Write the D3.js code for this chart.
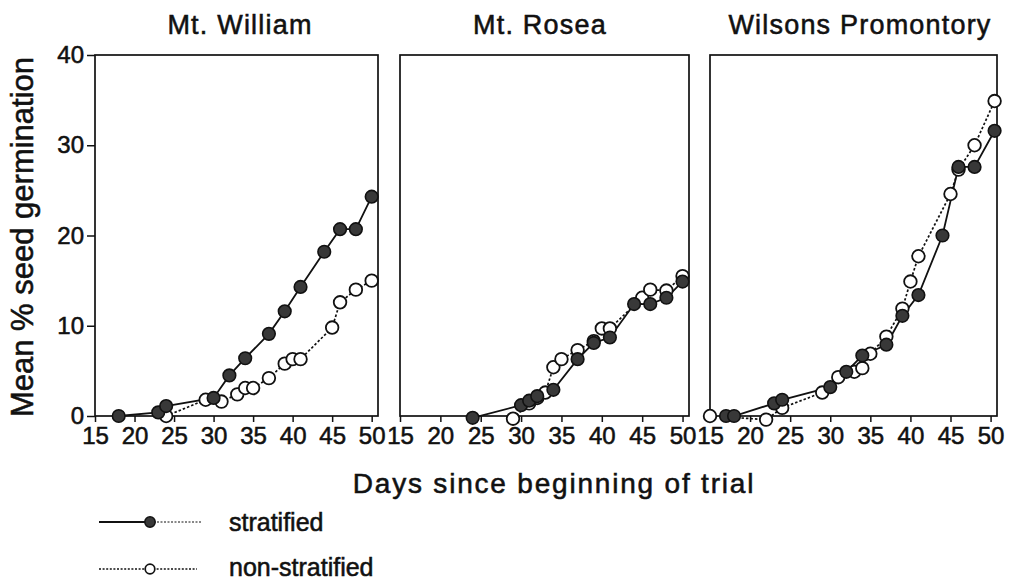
<!DOCTYPE html>
<html>
<head>
<meta charset="utf-8">
<script src="https://cdn.jsdelivr.net/npm/d3@7"></script>
<style>
  html, body { margin: 0; padding: 0; background: #fff; }
  svg { display: block; }
  text { font-family: 'Liberation Sans', Arial, Helvetica, sans-serif; fill: #111; stroke: #111; stroke-width: 0.55px; }
</style>
</head>
<body>
<svg id="chart" width="1010" height="585"></svg>
<script>
// ---- data ----
const panelTitles = ["Mt. William", "Mt. Rosea", "Wilsons Promontory"];
const xTicks = [15, 20, 25, 30, 35, 40, 45, 50];
const yTicks = [0, 10, 20, 30, 40];
const seriesNames = ["stratified", "non-stratified"];

const williamStratDays = [18, 23, 24, 30, 32, 34, 37, 39, 41, 44, 46, 48, 50];
const williamStratVals = [0, 0.4, 1.1, 2.0, 4.5, 6.4, 9.1, 11.6, 14.3, 18.2, 20.7, 20.7, 24.3];
const williamNonDays = [24, 29, 31, 33, 34, 35, 37, 39, 40, 41, 45, 46, 48, 50];
const williamNonVals = [0, 1.8, 1.6, 2.4, 3.1, 3.1, 4.2, 5.8, 6.3, 6.3, 9.8, 12.6, 14.0, 15.0];

const roseaStratDays = [24, 30, 31, 32, 34, 37, 39, 41, 44, 46, 48, 50];
const roseaStratVals = [-0.2, 1.2, 1.7, 2.2, 2.9, 6.3, 8.1, 8.7, 12.4, 12.4, 13.1, 14.9];
const roseaNonDays = [29, 31, 32, 33, 34, 35, 37, 39, 40, 41, 45, 46, 48, 50];
const roseaNonVals = [-0.3, 1.4, 2.0, 2.6, 5.4, 6.3, 7.3, 8.3, 9.7, 9.7, 13.1, 14.0, 13.9, 15.5];

const wilsonsStratDays = [17, 18, 23, 24, 30, 32, 34, 37, 39, 41, 44, 46, 48, 50.5];
const wilsonsStratVals = [0, 0, 1.4, 1.8, 3.2, 4.9, 6.7, 7.9, 11.1, 13.4, 20.0, 27.6, 27.6, 31.6];
const wilsonsNonDays = [15, 22, 24, 29, 31, 33, 34, 35, 37, 39, 40, 41, 45, 46, 48, 50.5];
const wilsonsNonVals = [0, -0.4, 0.9, 2.6, 4.3, 4.9, 5.3, 6.9, 8.8, 11.9, 14.9, 17.7, 24.6, 27.3, 30.0, 34.9];

// ---- build ----
const zip = (xs, ys) => xs.map((x, i) => ({ x, y: ys[i] }));
const panels = [
  { title: panelTitles[0], strat: zip(williamStratDays, williamStratVals), non: zip(williamNonDays, williamNonVals) },
  { title: panelTitles[1], strat: zip(roseaStratDays, roseaStratVals), non: zip(roseaNonDays, roseaNonVals) },
  { title: panelTitles[2], strat: zip(wilsonsStratDays, wilsonsStratVals), non: zip(wilsonsNonDays, wilsonsNonVals) }
];

// layout
const panelLeft = [95, 400, 710];
const panelWidth = [283, 289, 287];
const plotTop = 55, plotBottom = 416;
const titleCenters = [240, 540, 860];
const markerR = 6.3;

const svg = d3.select("#chart");
const y = d3.scaleLinear().domain([0, 40]).range([plotBottom, plotTop]);

panels.forEach((p, i) => {
  const x = d3.scaleLinear().domain([15, 50.8]).range([panelLeft[i], panelLeft[i] + panelWidth[i]]);
  const g = svg.append("g");

  // frame
  g.append("rect")
    .attr("x", panelLeft[i]).attr("y", plotTop)
    .attr("width", panelWidth[i]).attr("height", plotBottom - plotTop)
    .attr("fill", "none").attr("stroke", "#111").attr("stroke-width", 1.7);

  // x axis
  const xa = g.append("g").attr("transform", `translate(0,${plotBottom})`)
    .call(d3.axisBottom(x).tickValues(xTicks).tickSize(6).tickPadding(5).tickFormat(d3.format("d")));
  xa.select(".domain").remove();
  xa.selectAll(".tick line").attr("stroke", "#111").attr("stroke-width", 1.5);
  xa.selectAll(".tick text").attr("font-size", 24).attr("fill", "#111")
    .attr("font-family", "'Liberation Sans', Arial, sans-serif");

  // y axis only on first panel
  if (i === 0) {
    const ya = g.append("g").attr("transform", `translate(${panelLeft[i]},0)`)
      .call(d3.axisLeft(y).tickValues(yTicks).tickSize(8).tickPadding(3).tickFormat(d3.format("d")));
    ya.select(".domain").remove();
    ya.selectAll(".tick line").attr("stroke", "#111").attr("stroke-width", 1.5);
    ya.selectAll(".tick text").attr("font-size", 24).attr("fill", "#111")
      .attr("font-family", "'Liberation Sans', Arial, sans-serif");
  }

  // title
  g.append("text").attr("x", titleCenters[i]).attr("y", 34)
    .attr("text-anchor", "middle").attr("font-size", 27).attr("letter-spacing", 1.2)
    .text(p.title);

  const line = d3.line().x(d => x(d.x)).y(d => y(d.y));

  // lines
  g.append("path").datum(p.strat).attr("d", line)
    .attr("fill", "none").attr("stroke", "#111").attr("stroke-width", 1.8);
  g.append("path").datum(p.non).attr("d", line)
    .attr("fill", "none").attr("stroke", "#111").attr("stroke-width", 1.7)
    .attr("stroke-dasharray", "2.5,2");

  // markers
  g.selectAll("circle.non").data(p.non).join("circle").attr("class", "non")
    .attr("cx", d => x(d.x)).attr("cy", d => y(d.y)).attr("r", markerR)
    .attr("fill", "#fff").attr("stroke", "#111").attr("stroke-width", 1.8);
  g.selectAll("circle.strat").data(p.strat).join("circle").attr("class", "strat")
    .attr("cx", d => x(d.x)).attr("cy", d => y(d.y)).attr("r", markerR)
    .attr("fill", "#383838").attr("stroke", "#111").attr("stroke-width", 1.6);
});

// y label
svg.append("text")
  .attr("transform", "translate(33,237) rotate(-90)")
  .attr("text-anchor", "middle").attr("font-size", 31)
  .text("Mean % seed germination");

// x label
svg.append("text").attr("x", 554).attr("y", 493)
  .attr("text-anchor", "middle").attr("font-size", 28).attr("letter-spacing", 1.8)
  .text("Days since beginning of trial");

// legend
const lg = svg.append("g");
// stratified
lg.append("line").attr("x1", 99).attr("x2", 150).attr("y1", 522).attr("y2", 522)
  .attr("stroke", "#111").attr("stroke-width", 1.8);
lg.append("line").attr("x1", 150).attr("x2", 202).attr("y1", 522).attr("y2", 522)
  .attr("stroke", "#111").attr("stroke-width", 1).attr("stroke-dasharray", "2,1.5");
lg.append("circle").attr("cx", 150).attr("cy", 522).attr("r", 5.2)
  .attr("fill", "#383838").attr("stroke", "#111").attr("stroke-width", 1.5);
lg.append("text").attr("x", 229).attr("y", 531).attr("font-size", 25).text(seriesNames[0]);
// non-stratified
lg.append("line").attr("x1", 99).attr("x2", 197).attr("y1", 569).attr("y2", 569)
  .attr("stroke", "#111").attr("stroke-width", 1.5).attr("stroke-dasharray", "2,1.6");
lg.append("circle").attr("cx", 150).attr("cy", 569).attr("r", 4.8)
  .attr("fill", "#fff").attr("stroke", "#111").attr("stroke-width", 1.7);
lg.append("text").attr("x", 229).attr("y", 576).attr("font-size", 25).text(seriesNames[1]);
</script>
</body>
</html>
